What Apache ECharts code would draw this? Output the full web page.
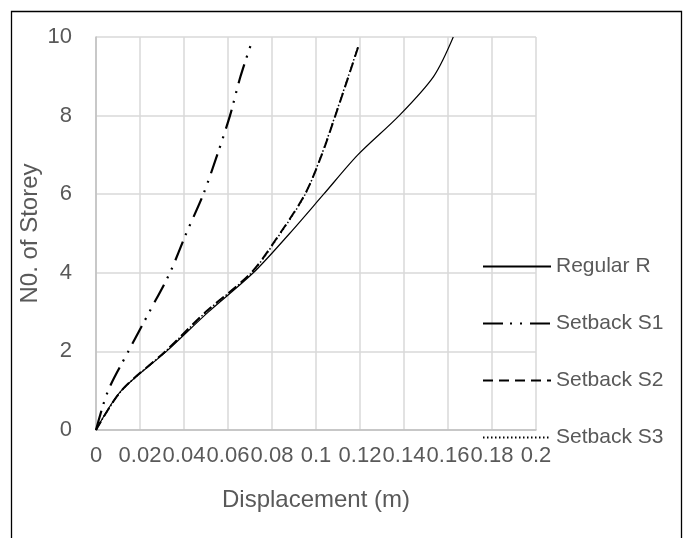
<!DOCTYPE html>
<html>
<head>
<meta charset="utf-8">
<script src="https://cdn.jsdelivr.net/npm/echarts@6/dist/echarts.min.js"></script>
<style>
  html, body { margin: 0; padding: 0; background: #fff; }
  #chart { width: 687px; height: 538px; }
</style>
</head>
<body>
<div id="chart"></div>
<script>
// ---- data ----
const seriesNames = ['Regular R', 'Setback S1', 'Setback S2', 'Setback S3'];
const regularX = [0, 0.0115, 0.032, 0.051, 0.0715, 0.088, 0.1035, 0.119, 0.1378, 0.1535, 0.1624];
const regularY = [0, 1, 2, 3, 4, 5, 6, 7, 8, 9, 10];
const s1X = [0, 0.0055, 0.0147, 0.0242, 0.0336, 0.041, 0.0488, 0.0551, 0.0609, 0.0657, 0.0706];
const s1Y = [0, 1, 2, 3, 4, 5, 6, 7, 8, 9, 9.84];
const s2X = [0, 0.0115, 0.0315, 0.0498, 0.0705, 0.0836, 0.095, 0.1026, 0.1088, 0.1148, 0.1193];
const s2Y = [0, 1, 2, 3, 4, 5, 6, 7, 8, 9, 9.77];
const s3X = [0, 0.0116, 0.0316, 0.0500, 0.0707, 0.0838, 0.0951, 0.1025, 0.1087, 0.1147, 0.1192];
const s3Y = [0, 1, 2, 3, 4, 5, 6, 7, 8, 9, 9.77];
const xTickLabels = ['0', '0.02', '0.04', '0.06', '0.08', '0.1', '0.12', '0.14', '0.16', '0.18', '0.2'];
const yTickLabels = ['0', '2', '4', '6', '8', '10'];

function pairs(xs, ys) { return xs.map((x, i) => [x, ys[i]]); }

const chart = echarts.init(document.getElementById('chart'));
const textColor = '#595959';
const font = '"Liberation Sans", Arial, sans-serif';

const styles = [
  { type: 'solid', width: 1.2 },
  { type: [20, 7, 2, 8, 2, 8], width: 2.2 },
  { type: [10, 6], width: 2 },
  { type: [1.5, 2.5], width: 1.5 }
];
const datas = [pairs(regularX, regularY), pairs(s1X, s1Y), pairs(s2X, s2Y), pairs(s3X, s3Y)];

chart.setOption({
  animation: false,
  backgroundColor: '#fff',
  textStyle: { fontFamily: font },
  graphic: [{
    type: 'rect',
    shape: { x: 11.5, y: 11.5, width: 670, height: 560 },
    style: { fill: 'none', stroke: '#000', lineWidth: 1.3 },
    z: 100
  }],
  grid: { left: 96, right: 151, top: 37, bottom: 108, containLabel: false },
  legend: {
    orient: 'vertical',
    left: 477,
    top: 251,
    itemWidth: 68,
    itemHeight: 14,
    itemGap: 36,
    data: seriesNames,
    itemStyle: { opacity: 0 },
    textStyle: { color: textColor, fontSize: 21, fontFamily: font }
  },
  xAxis: {
    type: 'value',
    min: 0, max: 0.2, interval: 0.02,
    name: 'Displacement (m)',
    nameLocation: 'middle',
    nameGap: 58,
    nameMoveOverlap: false,
    nameTextStyle: { color: textColor, fontSize: 24, fontFamily: font },
    axisLine: { show: true, onZero: false, lineStyle: { color: '#bfbfbf', width: 1.5 } },
    axisTick: { show: false },
    axisLabel: {
      color: textColor, fontSize: 22, margin: 15, fontFamily: font,
      formatter: (v) => xTickLabels[Math.round(v / 0.02)]
    },
    splitLine: { show: true, lineStyle: { color: '#d9d9d9', width: 1.5 } }
  },
  yAxis: {
    type: 'value',
    min: 0, max: 10, interval: 2,
    name: 'N0. of Storey',
    nameLocation: 'middle',
    nameGap: 54,
    nameMoveOverlap: false,
    nameTextStyle: { color: textColor, fontSize: 24, fontFamily: font },
    axisLine: { show: true, onZero: false, lineStyle: { color: '#bfbfbf', width: 1.5 } },
    axisTick: { show: false },
    axisLabel: {
      color: textColor, fontSize: 22, margin: 24, fontFamily: font,
      formatter: (v) => yTickLabels[Math.round(v / 2)]
    },
    splitLine: { show: true, lineStyle: { color: '#d9d9d9', width: 1.5 } }
  },
  series: seriesNames.map((n, i) => ({
    name: n,
    type: 'line',
    data: datas[i],
    smooth: 0.3,
    symbol: 'none',
    symbolSize: 0,
    color: '#000',
    lineStyle: { color: '#000', width: styles[i].width, type: styles[i].type },
    z: 10 - i
  }))
});
</script>
</body>
</html>
